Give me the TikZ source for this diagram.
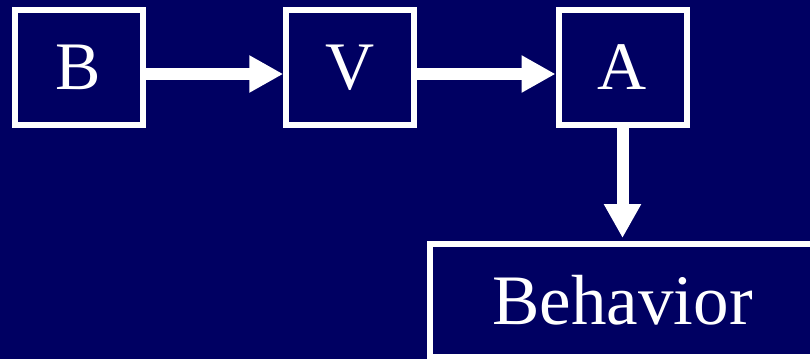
\documentclass[tikz,border=0pt]{standalone}
\usepackage{fontspec}
\setmainfont{Liberation Serif}
\usetikzlibrary{arrows.meta}
\definecolor{navy}{RGB}{0,0,98}
\begin{document}
\begin{tikzpicture}[x=1pt,y=-1pt,
  box/.style={draw=white,line width=6pt,rectangle,inner sep=0pt,text=white,
    minimum width=128pt,minimum height=115pt,font=\fontsize{68}{70}\selectfont},
  bigarrow/.style={draw=white,line width=12pt,-{Triangle[length=34pt,width=35pt]},fill=white}]
\fill[navy] (0,0) rectangle (810,359);
\useasboundingbox (0,0) rectangle (810,359);
\node[box] (B) at (78.5,67.5) {B};
\node[box] (V) at (350.25,67.5) {V};
\node[box] (A) at (622.5,67.5) {A};
\node[box,minimum width=385pt,minimum height=113pt,font=\fontsize{71}{73}\selectfont] (Beh) at (622.5,300.5) {Behavior};
\draw[bigarrow] ([yshift=-6.5pt]B.east) -- ([yshift=-6.5pt]V.west);
\draw[bigarrow] ([yshift=-6.5pt]V.east) -- ([yshift=-6.5pt]A.west);
\draw[bigarrow,shorten >=3pt] (A.south) -- (Beh.north);
\end{tikzpicture}
\end{document}
